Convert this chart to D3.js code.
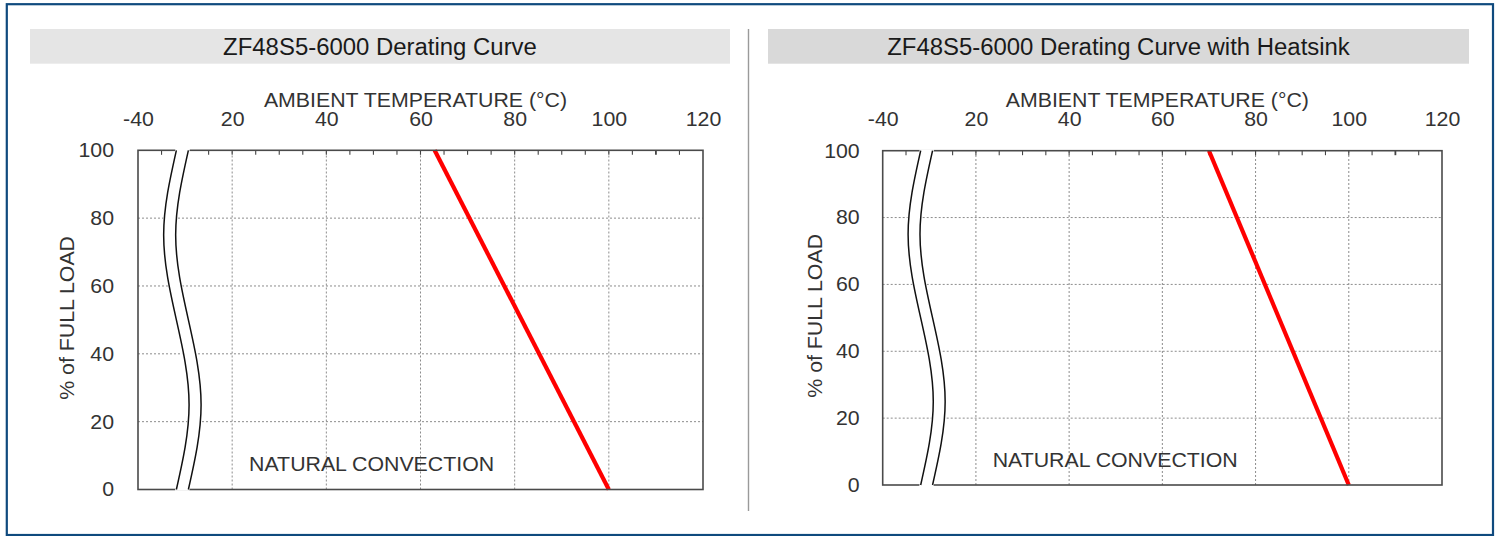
<!DOCTYPE html>
<html>
<head>
<meta charset="utf-8">
<script src="https://cdn.jsdelivr.net/npm/d3@7"></script>
<style>
  html, body { margin: 0; padding: 0; background: #fff; }
  svg { display: block; }
  text { font-family: "Liberation Sans", Arial, "DejaVu Sans", sans-serif; }
</style>
</head>
<body>
<svg id="chart" width="1501" height="536"></svg>
<script>
// ---------- data ----------
const chartTitles = ["ZF48S5-6000 Derating Curve", "ZF48S5-6000 Derating Curve with Heatsink"];
const xAxisTitle = "AMBIENT TEMPERATURE (\u00B0C)";
const yAxisTitle = "% of FULL LOAD";
const annotation = "NATURAL CONVECTION";
// x positions on the (broken) temperature axis; the first one is labelled -40
const tempTickValues = [0, 20, 40, 60, 80, 100, 120];
const tempTickLabels = ["-40", "20", "40", "60", "80", "100", "120"];
const loadTickValues = [0, 20, 40, 60, 80, 100];
const loadTickLabels = ["0", "20", "40", "60", "80", "100"];
const gridTemps = [20, 40, 60, 80, 100];
const gridLoads = [20, 40, 60, 80];
// derating curves (temperature °C, % full load)
const deratingTemp = [63, 100];
const deratingLoad = [100, 0];
const heatsinkTemp = [70, 100];
const heatsinkLoad = [100, 0];
// axis-break wiggle (load %, horizontal offset in °C)
const breakLoads = [100, 75, 50, 25, 0];
const breakOffsets = [0, -2.7, 0, 2.7, 0];

// ---------- layout ----------
const svg = d3.select("#chart");
const textColor = "#333";
const bodyFont = 20;

const panels = [
  { title: chartTitles[0], temps: deratingTemp, loads: deratingLoad,
    left: 138, right: 703, top: 150.3, bottom: 489.5,
    barX0: 30, barX1: 730, barFill: "#e5e5e5", yTitleX: 66.5, tickPad: 24 },
  { title: chartTitles[1], temps: heatsinkTemp, loads: heatsinkLoad,
    left: 882.7, right: 1442, top: 150.7, bottom: 485,
    barX0: 768, barX1: 1469, barFill: "#d9d9d9", yTitleX: 814.5, tickPad: 23 }
];

// outer border
svg.append("rect")
  .attr("x", 6.8).attr("y", 4.2).attr("width", 1493 - 6.8).attr("height", 535 - 4.2)
  .attr("fill", "none").attr("stroke", "#0f4a7e").attr("stroke-width", 2.2);

// divider
svg.append("line")
  .attr("x1", 748.5).attr("x2", 748.5).attr("y1", 29).attr("y2", 511)
  .attr("stroke", "#9a9a9a").attr("stroke-width", 1.4);

panels.forEach(p => {
  const g = svg.append("g");
  const x = d3.scaleLinear().domain([0, 120]).range([p.left, p.right]);
  const y = d3.scaleLinear().domain([0, 100]).range([p.bottom, p.top]);

  // title bar
  g.append("rect")
    .attr("x", p.barX0).attr("y", 29).attr("width", p.barX1 - p.barX0).attr("height", 34.7)
    .attr("fill", p.barFill);
  g.append("text")
    .attr("class", "title")
    .attr("x", (p.barX0 + p.barX1) / 2).attr("y", 46.5)
    .attr("text-anchor", "middle").attr("dominant-baseline", "central")
    .attr("font-size", 23).attr("fill", "#1a1a1a")
    .text(p.title);

  // grid
  g.append("g").selectAll("line").data(gridTemps).join("line")
    .attr("x1", d => x(d)).attr("x2", d => x(d))
    .attr("y1", y(0)).attr("y2", y(100))
    .attr("stroke", "#8c8c8c").attr("stroke-width", 1).attr("stroke-dasharray", "2,2");
  g.append("g").selectAll("line").data(gridLoads).join("line")
    .attr("x1", x(0)).attr("x2", x(120))
    .attr("y1", d => y(d)).attr("y2", d => y(d))
    .attr("stroke", "#8c8c8c").attr("stroke-width", 1).attr("stroke-dasharray", "2,2");

  // minor top ticks every 5 °C
  const minor = d3.range(5, 120, 5);
  g.append("g").selectAll("line").data(minor).join("line")
    .attr("x1", d => x(d)).attr("x2", d => x(d))
    .attr("y1", y(100)).attr("y2", y(100) + 4.5)
    .attr("stroke", "#444").attr("stroke-width", d => d === 110 ? 1.8 : 1.1);

  // derating line
  const pts = p.temps.map((t, i) => ({ t, l: p.loads[i] }));
  g.append("path")
    .datum(pts)
    .attr("d", d3.line().x(d => x(d.t)).y(d => y(d.l)))
    .attr("fill", "none").attr("stroke", "#ff0000").attr("stroke-width", 4.2)
    .attr("stroke-linecap", "butt");

  // frame
  g.append("rect")
    .attr("x", x(0)).attr("y", y(100)).attr("width", x(120) - x(0)).attr("height", y(0) - y(100))
    .attr("fill", "none").attr("stroke", "#4a4a4a").attr("stroke-width", 1.6);

  // axis break
  const breakStart = 8.15, breakWidth = 2.55;
  const bpts = breakLoads.map((l, i) => ({ l, o: breakOffsets[i] }));
  g.append("path")
    .datum(bpts)
    .attr("d", d3.area().curve(d3.curveNatural)
      .y(d => y(d.l))
      .x0(d => x(breakStart + d.o))
      .x1(d => x(breakStart + breakWidth + d.o)))
    .attr("fill", "#fff").attr("stroke", "#fff").attr("stroke-width", 2.4);
  [breakStart, breakStart + breakWidth].forEach(b => {
    g.append("path")
      .datum(bpts)
      .attr("d", d3.line().curve(d3.curveNatural).x(d => x(b + d.o)).y(d => y(d.l)))
      .attr("fill", "none").attr("stroke", "#111").attr("stroke-width", 1.5);
  });

  // x axis labels (top)
  const xAxis = g.append("g")
    .attr("transform", `translate(0,${y(100)})`)
    .call(d3.axisTop(x).tickValues(tempTickValues)
      .tickFormat((d, i) => tempTickLabels[i]).tickSize(0).tickPadding(24.5));
  xAxis.select(".domain").remove();
  xAxis.selectAll("text").attr("font-size", bodyFont).attr("fill", textColor)
    .attr("font-family", "Liberation Sans, Arial, sans-serif");

  // y axis labels
  const yAxis = g.append("g")
    .attr("transform", `translate(${x(0)},0)`)
    .call(d3.axisLeft(y).tickValues(loadTickValues)
      .tickFormat((d, i) => loadTickLabels[i]).tickSize(0).tickPadding(p.tickPad));
  yAxis.select(".domain").remove();
  yAxis.selectAll("text").attr("font-size", bodyFont).attr("fill", textColor)
    .attr("font-family", "Liberation Sans, Arial, sans-serif");

  // axis titles
  g.append("text")
    .attr("x", (x(0) + x(120)) / 2 - 5).attr("y", 106.5)
    .attr("text-anchor", "middle").attr("font-size", bodyFont).attr("fill", textColor)
    .text(xAxisTitle);
  g.append("text")
    .attr("transform", `translate(${p.yTitleX},${(y(0) + y(100)) / 2 - 2}) rotate(-90)`)
    .attr("text-anchor", "middle").attr("dominant-baseline", "central")
    .attr("font-size", bodyFont).attr("fill", textColor)
    .text(yAxisTitle);

  // annotation
  g.append("text")
    .attr("x", x(23.6)).attr("y", y(7.5))
    .attr("dominant-baseline", "central")
    .attr("font-size", bodyFont).attr("fill", textColor)
    .text(annotation);
});

// slightly wider glyphs, as in the reference rendering
svg.selectAll("text").each(function () {
  const k = this.getAttribute("class") === "title" ? 1.04 : 1.065;
  const L = this.getComputedTextLength();
  this.setAttribute("textLength", L * k);
  this.setAttribute("lengthAdjust", "spacingAndGlyphs");
});
</script>
</body>
</html>
